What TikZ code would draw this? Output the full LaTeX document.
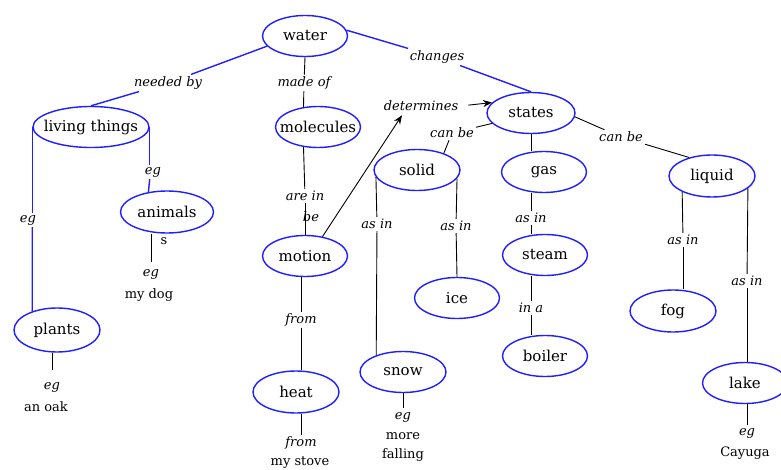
\documentclass[tikz,border=0pt]{standalone}
\usepackage{fontspec}
\setmainfont{DejaVu Serif}
\usetikzlibrary{shapes.geometric,arrows.meta,calc}
\definecolor{cblue}{RGB}{30,30,255}
\newcommand{\Ztext}[1]{\makebox[0pt]{#1}}
\begin{document}
\begin{tikzpicture}[x=1pt,y=-1pt,
  concept/.style={ellipse, draw=cblue, line width=1.4pt, minimum width=85pt, minimum height=41pt, inner sep=0pt, font=\fontsize{15}{17}\selectfont},
  lnk/.style={inner sep=2pt, font=\fontsize{13}{15}\selectfont\itshape},
  plain/.style={inner sep=1pt, font=\fontsize{13}{15}\selectfont},
  bline/.style={draw=cblue, line width=1.4pt},
  kline/.style={draw=black, line width=0.9pt},
  arr/.style={-{Stealth[length=9pt,width=7pt]}}
]
\useasboundingbox (0,0) rectangle (781,470);
% concepts
\node[concept] (water) at (305,36) {\Ztext{water}};
\node[concept, minimum width=116pt] (lt) at (91,127) {\Ztext{living things}};
\node[concept] (mol) at (318,127) {\Ztext{molecules}};
\node[concept, minimum width=88pt] (states) at (531,113) {\Ztext{states}};
\node[concept, minimum width=86pt] (solid) at (417,170) {\Ztext{solid}};
\node[concept] (gas) at (544,172) {\Ztext{gas}};
\node[concept, minimum width=86pt, minimum height=42pt] (liquid) at (712,176) {\Ztext{liquid}};
\node[concept, minimum width=93pt, minimum height=42pt] (animals) at (167,212) {\Ztext{animals}};
\node[concept] (motion) at (305,256) {\Ztext{motion}};
\node[concept] (ice) at (457,298) {\Ztext{ice}};
\node[concept] (steam) at (545,255) {\Ztext{steam}};
\node[concept, minimum width=86pt, minimum height=42pt] (fog) at (673,311) {\Ztext{fog}};
\node[concept, minimum width=86pt, minimum height=44pt] (plants) at (57,330) {\Ztext{plants}};
\node[concept, minimum width=86pt] (snow) at (403,372) {\Ztext{snow}};
\node[concept] (boiler) at (545,356) {\Ztext{boiler}};
\node[concept, minimum width=86pt, minimum height=42pt] (heat) at (296,392) {\Ztext{heat}};
\node[concept] (lake) at (745,383) {\Ztext{lake}};
% link labels
\node[lnk] (needed) at (168,83) {needed by};
\node[lnk] (madeof) at (304,83) {made of};
\node[lnk] (changes) at (437,57) {changes};
\node[lnk] (determines) at (421,106) {determines};
\node[lnk] (canbe1) at (452,133) {can be};
\node[lnk] (canbe2) at (621,137) {can be};
\node[lnk] (eg1) at (28,220) {eg};
\node[lnk] (eg2) at (153,172) {eg};
\node[plain] (s) at (164,241) {s};
\node[lnk] (eg3) at (151,274) {eg};
\node[plain] (mydog) at (149,295) {my dog};
\node[lnk] (eg4) at (52,387) {eg};
\node[plain] (anoak) at (46,407) {an oak};
\node[lnk] (arein) at (305,196) {are in};
\node[lnk] (be) at (311,217) {be};
\node[lnk] (asin1) at (377,224) {as in};
\node[lnk] (asin2) at (456,226) {as in};
\node[lnk] (from1) at (301,320) {from};
\node[lnk] (from2) at (301,443) {from};
\node[plain] (mystove) at (300,463) {my stove};
\node[lnk] (eg5) at (403,417) {eg};
\node[plain] (more) at (403,436) {more};
\node[plain] (falling) at (403,455) {falling};
\node[lnk] (asin3) at (531,218) {as in};
\node[lnk] (ina) at (531,308) {in a};
\node[lnk] (asin4) at (683,240) {as in};
\node[lnk] (asin5) at (747,281) {as in};
\node[lnk] (eg6) at (747,433) {eg};
\node[plain] (cayuga) at (745,453) {Cayuga};
% connectors
\draw[bline] (water.195) -- (needed);
\draw[bline] (needed) -- (lt.north);
\draw[kline] (water.south) -- (madeof);
\draw[kline] (madeof) -- (mol.126);
\draw[bline] (water.8) -- (changes);
\draw[bline] (changes) -- (states.north);
\draw[bline] (lt.west) -- (lt.west |- eg1.north);
\draw[bline] (lt.west |- eg1.south) -- (plants.143);
\draw[bline] (lt.east) -- (lt.east |- eg2.north);
\draw[bline] (lt.east |- eg2.south) -- (animals.133);
\draw[kline, shorten >=5pt] (animals.south -| eg3) -- (eg3);
\draw[kline, shorten >=10pt] (plants.south -| eg4) -- (eg4);
\draw[kline] (mol.234) -- (arein);
\draw[kline] (arein) -- (motion.north);
\draw[kline, arr] (motion.48) -- ($(determines.south)+(-19,2)$);
\draw[kline, arr, shorten <=8pt] (determines.east) -- (states.165);
\draw[kline] (states.195) -- (canbe1);
\draw[kline] (canbe1) -- (solid.32);
\draw[kline] (states.south) -- (states.south |- gas.north);
\draw[kline] (states.-5) -- (canbe2);
\draw[kline] (canbe2) -- (liquid.141);
\draw[kline] (solid.190) -- (asin1);
\draw[kline] (asin1) -- (snow.148);
\draw[kline] (solid.-12) -- (asin2);
\draw[kline] (asin2) -- (ice.north);
\draw[kline] (states.south |- gas.south) -- (asin3);
\draw[kline] (asin3) -- (states.south |- steam.north);
\draw[kline] (states.south |- steam.south) -- (ina);
\draw[kline] (ina) -- (states.south |- boiler.north);
\draw[kline] (liquid.208) -- (asin4);
\draw[kline] (asin4) -- (asin4 |- fog.north);
\draw[kline] (liquid.-19) -- (asin5);
\draw[kline] (asin5) -- (asin5 |- lake.north);
\draw[kline, shorten >=1pt] (lake.south -| eg6) -- (eg6);
\draw[kline, shorten >=2pt] (snow.south) -- (eg5);
\draw[kline] (from1 |- motion.south) -- (from1);
\draw[kline] (from1) -- (from1 |- heat.north);
\draw[kline] (from2 |- heat.south) -- (from2);
\end{tikzpicture}
\end{document}
